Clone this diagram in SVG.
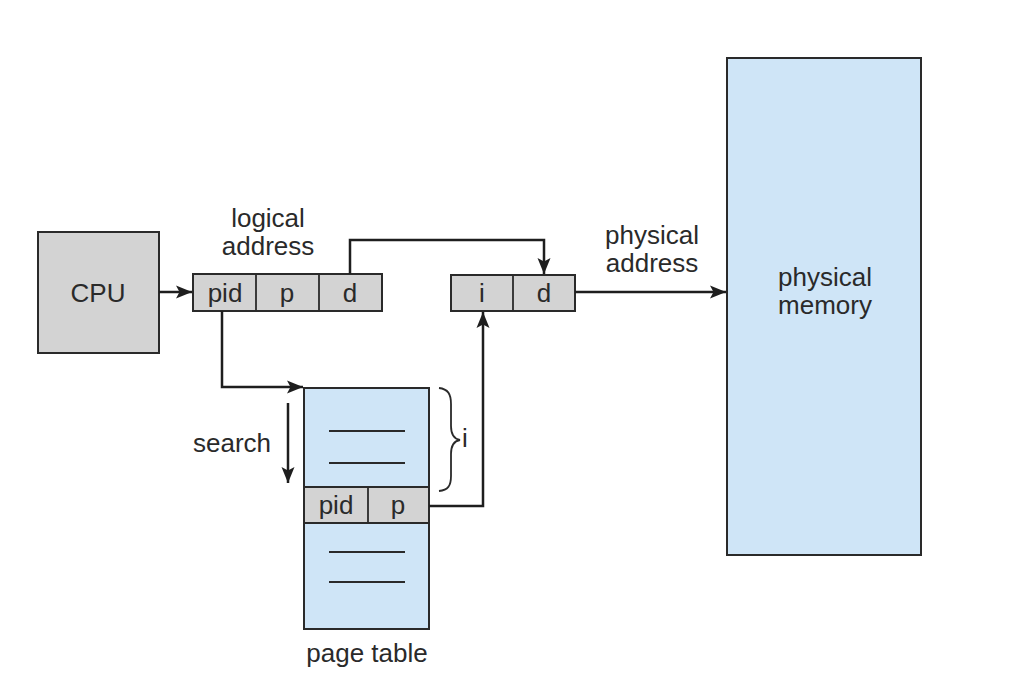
<svg xmlns="http://www.w3.org/2000/svg" width="1023" height="680" viewBox="0 0 1023 680">
<defs>
<marker id="arr" markerUnits="userSpaceOnUse" markerWidth="18" markerHeight="14" refX="16" refY="7" orient="auto">
<path d="M0,0.5 L16,7 L0,13.5 L3.5,7 z" fill="#1e1e1e"/>
</marker>
</defs>
<style>
.box{stroke:#2a2a2a;stroke-width:2}
.grey{fill:#d3d3d3}
.blue{fill:#cfe5f7}
.t{font-family:"Liberation Sans",Arial,sans-serif;font-size:26px;fill:#2a2a2a;text-anchor:middle}
.c{fill:none;stroke:#1e1e1e;stroke-width:2.5}
.ln{stroke:#2a2a2a;stroke-width:1.8}
</style>
<rect width="1023" height="680" fill="#ffffff"/>

<g id="cpu">
<rect class="box grey" x="38" y="232" width="121" height="121"/>
<text class="t" x="98" y="302">CPU</text>
</g>

<g id="logical-address">
<text class="t" x="268" y="227">logical</text>
<text class="t" x="268" y="255">address</text>
<rect class="box grey" x="193" y="274" width="189" height="37"/>
<line class="ln" x1="256" y1="274" x2="256" y2="311"/>
<line class="ln" x1="319" y1="274" x2="319" y2="311"/>
<text class="t" x="225" y="302">pid</text>
<text class="t" x="287" y="302">p</text>
<text class="t" x="350" y="302">d</text>
</g>

<g id="physical-address">
<text class="t" x="652" y="244">physical</text>
<text class="t" x="652" y="272">address</text>
<rect class="box grey" x="451" y="275" width="124" height="36"/>
<line class="ln" x1="513" y1="275" x2="513" y2="311"/>
<text class="t" x="482" y="302">i</text>
<text class="t" x="544" y="302">d</text>
</g>

<g id="physical-memory">
<rect class="box blue" x="727" y="58" width="194" height="497"/>
<text class="t" x="825" y="286">physical</text>
<text class="t" x="825" y="314">memory</text>
</g>

<g id="page-table">
<rect class="box blue" x="304" y="388" width="125" height="241"/>
<line class="ln" x1="329" y1="431" x2="405" y2="431"/>
<line class="ln" x1="329" y1="463" x2="405" y2="463"/>
<rect class="box grey" x="304" y="487" width="125" height="36"/>
<line class="ln" x1="368" y1="487" x2="368" y2="523"/>
<text class="t" x="336" y="514">pid</text>
<text class="t" x="398" y="514">p</text>
<line class="ln" x1="329" y1="552" x2="405" y2="552"/>
<line class="ln" x1="329" y1="582" x2="405" y2="582"/>
<text class="t" x="367" y="662">page table</text>
</g>

<g id="brace">
<path d="M439,388 C448,389 451,394 451,404 L451,426 C451,435 454,439 460,440 C454,441 451,445 451,454 L451,476 C451,486 448,490 439,491" fill="none" stroke="#2a2a2a" stroke-width="1.8"/>
<text class="t" x="465" y="447">i</text>
</g>

<g id="search">
<text class="t" x="232" y="452">search</text>
</g>

<g id="connectors">
<path class="c" d="M159,292 H192" marker-end="url(#arr)"/>
<path class="c" d="M350,274 V240 H544 V274" marker-end="url(#arr)"/>
<path class="c" d="M222,311 V387 H303" marker-end="url(#arr)"/>
<path class="c" d="M429,506 H483 V312" marker-end="url(#arr)"/>
<path class="c" d="M575,292 H726" marker-end="url(#arr)"/>
<path class="c" d="M288,403 V483" marker-end="url(#arr)"/>
</g>
</svg>
